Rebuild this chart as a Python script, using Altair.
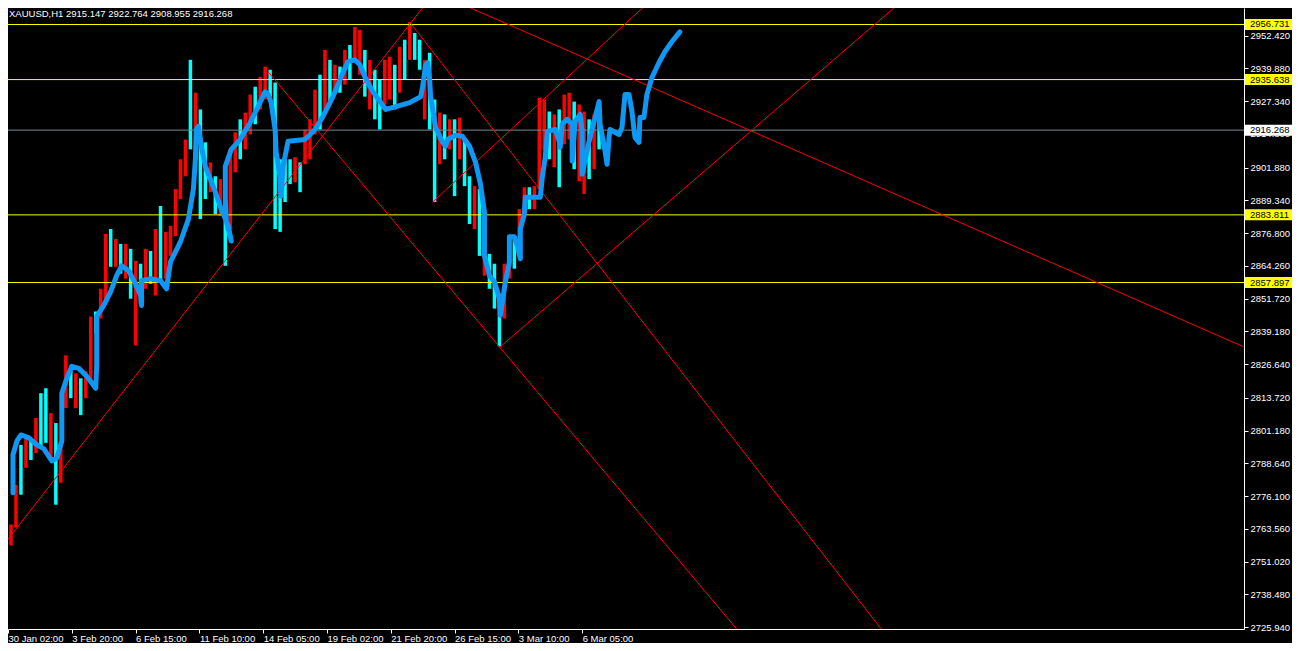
import altair as alt
import pandas as pd

# ---------------- data ----------------
# grouped hourly candles (bar index = hours since the first visible bar)
candle_bar = list(range(2, 600, 5))
candle_high = [2764.0, 2765.2, 2780.4, 2795.7, 2799.5, 2798.4, 2806.0, 2815.5, 2817.4, 2807.9,
               2804.1, 2796.5, 2830.0, 2825.0, 2823.1, 2821.2, 2823.9, 2844.9, 2846.8, 2855.5,
               2876.5, 2878.4, 2874.6, 2872.7, 2872.7, 2870.8, 2866.2, 2865.1, 2870.8, 2870.0,
               2878.4, 2887.2, 2877.3, 2879.6, 2893.7, 2905.1, 2912.7, 2943.2, 2930.6, 2924.2,
               2911.6, 2903.9, 2898.6, 2897.5, 2891.0, 2908.9, 2915.4, 2920.4, 2923.0, 2929.9,
               2932.9, 2936.7, 2940.6, 2939.4, 2934.5, 2905.1, 2906.2, 2905.1, 2905.9, 2903.9,
               2916.5, 2920.4, 2931.8, 2937.5, 2947.0, 2943.2, 2941.3, 2940.6, 2947.0, 2948.9,
               2955.8, 2954.7, 2947.0, 2943.2, 2939.4, 2935.6, 2943.2, 2944.4, 2941.3, 2948.2,
               2950.9, 2957.7, 2953.5, 2950.9, 2943.2, 2945.9, 2928.0, 2923.0, 2922.3, 2920.4,
               2920.4, 2921.1, 2912.7, 2898.6, 2894.8, 2893.7, 2878.4, 2868.9, 2865.1, 2853.6,
               2865.1, 2874.6, 2875.7, 2886.0, 2894.4, 2894.4, 2894.8, 2928.7, 2928.0, 2923.4,
               2922.3, 2924.2, 2929.9, 2930.6, 2927.2, 2926.1, 2923.4, 2920.4, 2922.3, 2920.4]
candle_low = [2753.7, 2757.2, 2764.0, 2776.6, 2786.9, 2789.9, 2792.6, 2794.5, 2796.5, 2789.6,
              2772.8, 2781.2, 2809.8, 2813.6, 2809.8, 2807.1, 2813.6, 2819.3, 2838.4, 2844.1,
              2851.7, 2863.9, 2863.9, 2861.3, 2859.4, 2851.7, 2833.8, 2849.8, 2855.5, 2857.4,
              2852.9, 2858.2, 2859.4, 2868.1, 2875.7, 2889.9, 2898.6, 2908.9, 2905.1, 2882.2,
              2889.9, 2892.5, 2884.1, 2883.4, 2864.3, 2878.4, 2900.1, 2905.1, 2908.9, 2914.6,
              2918.5, 2924.2, 2928.0, 2929.1, 2878.4, 2877.3, 2888.7, 2895.6, 2896.3, 2892.5,
              2903.2, 2905.1, 2914.6, 2916.5, 2924.2, 2926.1, 2929.9, 2930.6, 2933.7, 2935.6,
              2943.2, 2937.5, 2929.1, 2924.2, 2920.4, 2916.5, 2926.1, 2928.0, 2924.2, 2930.6,
              2935.6, 2943.2, 2943.2, 2939.4, 2920.4, 2916.5, 2888.7, 2903.2, 2905.1, 2908.9,
              2891.0, 2905.1, 2894.8, 2880.3, 2878.4, 2868.1, 2860.5, 2855.5, 2847.9, 2833.4,
              2844.1, 2859.4, 2863.2, 2870.8, 2884.1, 2886.0, 2886.0, 2893.7, 2908.9, 2905.1,
              2902.1, 2894.4, 2910.8, 2912.7, 2901.3, 2896.7, 2891.8, 2897.5, 2901.3, 2908.9]
candle_dir = list("RRRCRCRCCR" "CRRCRCRRCR" "RCRCRCRCRC" "RCRRRRRCRC" "CRCRCRRCRR"
                  "CRRCCCCCRC" "RRRCRCRCRC" "RRCRCCRRCR" "CRCCRCCRCR" "CRCCRCRCCC"
                  "RRCRRCRRRC" "RCRRCRRCRC")

# hand-drawn blue sketch
sketch_bar = [9, 9, 13, 17, 25, 33, 40, 48, 53, 58, 58, 63, 68, 75, 83, 92, 93, 93, 100, 107,
              113, 118, 125, 132, 137, 138, 138, 147, 157, 163, 167, 177, 185, 190, 192, 193, 195, 198, 202, 207,
              212, 218, 225, 228, 223, 222, 222, 228, 237, 247, 255, 262, 265, 268, 272, 273, 277, 278, 280, 285,
              302, 312, 320, 330, 340, 345, 352, 357, 362, 370, 383, 393, 407, 418, 420, 423, 425, 427, 428, 433,
              440, 443, 445, 453, 460, 467, 473, 478, 482, 482, 482, 487, 492, 497, 498, 500, 503, 507, 507, 512,
              515, 518, 518, 522, 523, 538, 540, 543, 545, 553, 557, 558, 560, 565, 570, 570, 573, 578, 580, 580,
              587, 592, 597, 598, 603, 605, 607, 608, 617, 620, 623, 627, 630, 632, 633, 637, 638, 642, 645, 650,
              657, 663, 670, 678]
sketch_price = [2777.4, 2791.9, 2797.2, 2799.5, 2798.4, 2795.7, 2794.2, 2789.6, 2790.7, 2797.2,
                2815.5, 2821.2, 2825.8, 2825.0, 2822.0, 2817.4, 2826.2, 2844.9, 2849.1, 2854.4,
                2860.5, 2864.3, 2862.4, 2857.4, 2852.9, 2849.1, 2858.6, 2859.4, 2858.6, 2855.5,
                2865.8, 2873.5, 2882.2, 2893.7, 2905.1, 2916.5, 2917.7, 2910.1, 2902.4, 2897.5,
                2892.5, 2886.0, 2879.6, 2873.8, 2881.5, 2889.9, 2902.4, 2908.9, 2912.7, 2919.2,
                2925.3, 2931.0, 2929.9, 2926.8, 2916.5, 2907.8, 2898.6, 2891.0, 2902.4, 2912.0,
                2912.7, 2916.5, 2921.5, 2929.1, 2938.3, 2942.5, 2943.2, 2941.3, 2936.7, 2931.0,
                2924.2, 2925.3, 2926.8, 2929.1, 2932.9, 2941.3, 2942.1, 2935.6, 2929.1, 2917.3,
                2911.6, 2910.1, 2912.7, 2914.3, 2913.9, 2910.1, 2904.0, 2895.6, 2884.9, 2875.7,
                2868.1, 2860.5, 2858.2, 2851.7, 2845.3, 2850.6, 2858.2, 2865.8, 2875.4, 2875.4,
                2871.9, 2867.0, 2878.4, 2884.1, 2890.6, 2890.6, 2898.2, 2905.9, 2915.8, 2916.5,
                2912.0, 2909.7, 2918.5, 2920.4, 2918.5, 2904.4, 2919.6, 2922.3, 2915.8, 2899.4,
                2912.0, 2919.6, 2927.2, 2918.5, 2908.2, 2903.2, 2913.5, 2916.5, 2914.6, 2917.3,
                2929.9, 2929.9, 2923.4, 2916.5, 2913.5, 2911.6, 2921.1, 2921.1, 2929.9, 2936.4,
                2942.1, 2946.3, 2950.1, 2953.9]

# red trend / fan lines (start bar, start price, end bar, end price)
trend_bar1 = [0, 265, 407, 450, 497, 430]
trend_price1 = [2757.6, 2938.6, 2957.7, 2966.1, 2833.0, 2888.7]
trend_bar2 = [426, 735, 880, 1243, 902, 649]
trend_price2 = [2966.1, 2725.2, 2725.2, 2833.4, 2966.1, 2966.1]

# horizontal levels
yellow_levels = [2956.731, 2935.638, 2883.811, 2857.897]
last_price = [2916.268]

# axes
y_ticks = [2964.960, 2952.420, 2939.880, 2927.340, 2914.800, 2901.880, 2889.340, 2876.800,
           2864.260, 2851.720, 2839.180, 2826.640, 2813.720, 2801.180, 2788.640, 2776.100,
           2763.560, 2751.020, 2738.480, 2725.940]
x_tick_bars = [4, 68, 132, 196, 260, 324, 388, 452, 516, 580]
x_tick_labels = ["30 Jan 02:00", "3 Feb 20:00", "6 Feb 15:00", "11 Feb 10:00", "14 Feb 05:00",
                 "19 Feb 02:00", "21 Feb 20:00", "26 Feb 15:00", "3 Mar 10:00", "6 Mar 05:00"]
header_text = "XAUUSD,H1  2915.147 2922.764 2908.955 2916.268"

# ---------------- tables ----------------
candles = pd.DataFrame({"bar": candle_bar, "high": candle_high, "low": candle_low,
                        "dir": ["up" if c == "R" else "down" for c in candle_dir]})
sketch = pd.DataFrame({"seq": list(range(len(sketch_bar))), "bar": sketch_bar, "price": sketch_price})
trends = pd.DataFrame({"b1": trend_bar1, "p1": trend_price1, "b2": trend_bar2, "p2": trend_price2})
levels = pd.DataFrame({"price": yellow_levels})
lastp = pd.DataFrame({"price": last_price})

FONT = "Liberation Sans"
FS = 9.5
xs = alt.Scale(domain=[4, 1244], nice=False, zero=False)
ys = alt.Scale(domain=[2725.18, 2963.05], nice=False, zero=False)

label_expr = ("[" + ",".join("'" + s + "'" for s in x_tick_labels) + "][indexof(["
              + ",".join(str(b) for b in x_tick_bars) + "], datum.value)]")

x_axis = alt.Axis(values=x_tick_bars, labelExpr=label_expr, orient="bottom", title=None, grid=False,
                  domainColor="white", tickColor="white", tickSize=4, labelColor="white",
                  labelFont=FONT, labelFontSize=FS, labelAlign="left", labelBaseline="top",
                  labelPadding=0, labelFlush=False, labelOverlap=False, labelBound=False)
y_axis = alt.Axis(values=y_ticks, format=".3f", orient="right", title=None, grid=False,
                  domainColor="white", tickColor="white", tickSize=4, labelColor="white",
                  labelFont=FONT, labelFontSize=FS, labelPadding=2, labelFlush=False,
                  labelOverlap=False, labelBound=False)


def X(field):
    return alt.X(field, scale=xs, axis=x_axis)


def Y(field):
    return alt.Y(field, scale=ys, axis=y_axis)


candle_layer = alt.Chart(candles).mark_rule(strokeWidth=3.5).encode(
    x=X("bar:Q"),
    y=Y("high:Q"),
    y2="low:Q",
    color=alt.Color("dir:N", scale=alt.Scale(domain=["up", "down"], range=["#FF0000", "#00FFFF"]),
                    legend=None),
)

yellow_layer = alt.Chart(levels).mark_rule(color="#FFFF00", strokeWidth=1).encode(y=Y("price:Q"))
price_layer = alt.Chart(lastp).mark_rule(color="#778899", strokeWidth=1).encode(y=Y("price:Q"))

trend_layer = alt.Chart(trends).mark_rule(color="#FF0000", strokeWidth=1, clip=True).encode(
    x=X("b1:Q"), y=Y("p1:Q"), x2="b2:Q", y2="p2:Q")

sketch_layer = alt.Chart(sketch).mark_line(color="#0E98F4", strokeWidth=5, strokeCap="round",
                                           strokeJoin="round").encode(
    x=X("bar:Q"), y=Y("price:Q"), order="seq:Q")

yellow_box = alt.Chart(levels).mark_rule(color="#FFFF00", strokeWidth=11, strokeCap="butt").encode(
    x=alt.value(1237), x2=alt.value(1284), y=Y("price:Q"))
yellow_txt = alt.Chart(levels).mark_text(color="black", font=FONT, fontSize=FS, align="left",
                                         baseline="middle").encode(
    x=alt.value(1242), y=Y("price:Q"), text=alt.Text("price:Q", format=".3f"))
white_box = alt.Chart(lastp).mark_rule(color="white", strokeWidth=11, strokeCap="butt").encode(
    x=alt.value(1237), x2=alt.value(1284), y=Y("price:Q"))
white_txt = alt.Chart(lastp).mark_text(color="black", font=FONT, fontSize=FS, align="left",
                                       baseline="middle").encode(
    x=alt.value(1242), y=Y("price:Q"), text=alt.Text("price:Q", format=".3f"))

header = alt.Chart(pd.DataFrame({"t": [header_text]})).mark_text(
    color="white", font=FONT, fontSize=FS, align="left", baseline="top").encode(
    x=alt.value(1), y=alt.value(1), text="t:N")

chart = alt.layer(
    candle_layer, yellow_layer, price_layer, trend_layer, sketch_layer,
    yellow_box, yellow_txt, white_box, white_txt, header
).properties(
    width=1236, height=621,
    padding={"left": 0, "top": 0, "right": 48, "bottom": 14},
    autosize=alt.AutoSizeParams(type="none"),
).configure(background="black").configure_view(stroke=None, fill="black")

chart.save("out.html", embed_options={"renderer": "svg", "actions": False})
